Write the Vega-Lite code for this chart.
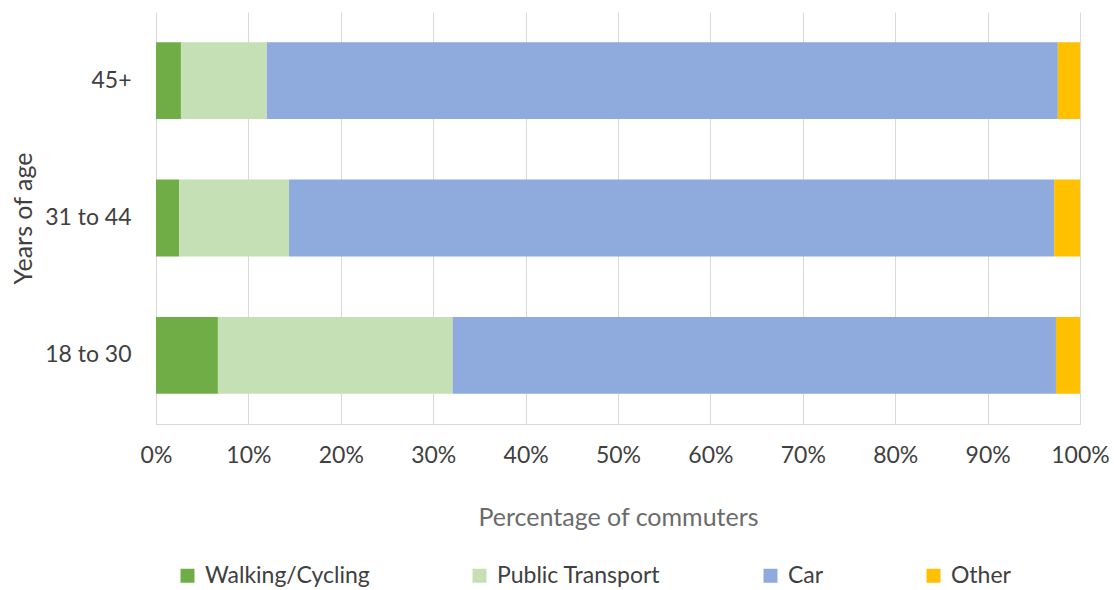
{
  "$schema": "https://vega.github.io/schema/vega-lite/v6.json",
  "width": 924,
  "height": 412,
  "autosize": {"type": "none"},
  "padding": {"left": 156, "top": 12, "right": 34, "bottom": 166},
  "background": "white",
  "config": {
    "font": "Lato",
    "view": {"stroke": null}
  },
  "data": {
    "values": [
      {"age": "45+", "mode": "Walking/Cycling", "order": 1, "share": 0.027},
      {"age": "45+", "mode": "Public Transport", "order": 2, "share": 0.093},
      {"age": "45+", "mode": "Car", "order": 3, "share": 0.856},
      {"age": "45+", "mode": "Other", "order": 4, "share": 0.024},
      {"age": "31 to 44", "mode": "Walking/Cycling", "order": 1, "share": 0.025},
      {"age": "31 to 44", "mode": "Public Transport", "order": 2, "share": 0.119},
      {"age": "31 to 44", "mode": "Car", "order": 3, "share": 0.828},
      {"age": "31 to 44", "mode": "Other", "order": 4, "share": 0.028},
      {"age": "18 to 30", "mode": "Walking/Cycling", "order": 1, "share": 0.067},
      {"age": "18 to 30", "mode": "Public Transport", "order": 2, "share": 0.254},
      {"age": "18 to 30", "mode": "Car", "order": 3, "share": 0.653},
      {"age": "18 to 30", "mode": "Other", "order": 4, "share": 0.026}
    ]
  },
  "mark": {"type": "bar"},
  "encoding": {
    "y": {
      "field": "age",
      "type": "nominal",
      "sort": ["45+", "31 to 44", "18 to 30"],
      "scale": {"paddingInner": 0.44, "paddingOuter": 0.22},
      "axis": {
        "title": "Years of age",
        "titleFontSize": 25,
        "titleFontWeight": "normal",
        "titleColor": "#404040",
        "titlePadding": 8,
        "labelFontSize": 23,
        "labelColor": "#404040",
        "labelPadding": 25,
        "domain": false,
        "ticks": false
      }
    },
    "x": {
      "field": "share",
      "type": "quantitative",
      "stack": "zero",
      "scale": {"domain": [0, 1], "nice": false},
      "axis": {
        "title": "Percentage of commuters",
        "titleFontSize": 25,
        "titleFontWeight": "normal",
        "titleColor": "#6b6b6b",
        "titlePadding": 38,
        "format": ".0%",
        "values": [0, 0.1, 0.2, 0.3, 0.4, 0.5, 0.6, 0.7, 0.8, 0.9, 1],
        "labelFontSize": 23,
        "labelColor": "#404040",
        "labelPadding": 20,
        "ticks": false,
        "domainColor": "#d9d9d9",
        "gridColor": "#d9d9d9",
        "labelFlush": false
      }
    },
    "color": {
      "field": "mode",
      "type": "nominal",
      "sort": ["Walking/Cycling", "Public Transport", "Car", "Other"],
      "scale": {
        "domain": ["Walking/Cycling", "Public Transport", "Car", "Other"],
        "range": ["#70ad47", "#c5e0b4", "#8faadc", "#ffc000"]
      },
      "legend": {
        "title": null,
        "orient": "none",
        "direction": "horizontal",
        "legendX": 20,
        "legendY": 552,
        "symbolType": "square",
        "symbolSize": 196,
        "symbolStrokeWidth": 0,
        "labelFontSize": 23,
        "labelColor": "#404040",
        "labelOffset": 6,
        "columnPadding": 98,
        "labelLimit": 400
      }
    },
    "order": {"field": "order", "type": "quantitative"}
  }
}
